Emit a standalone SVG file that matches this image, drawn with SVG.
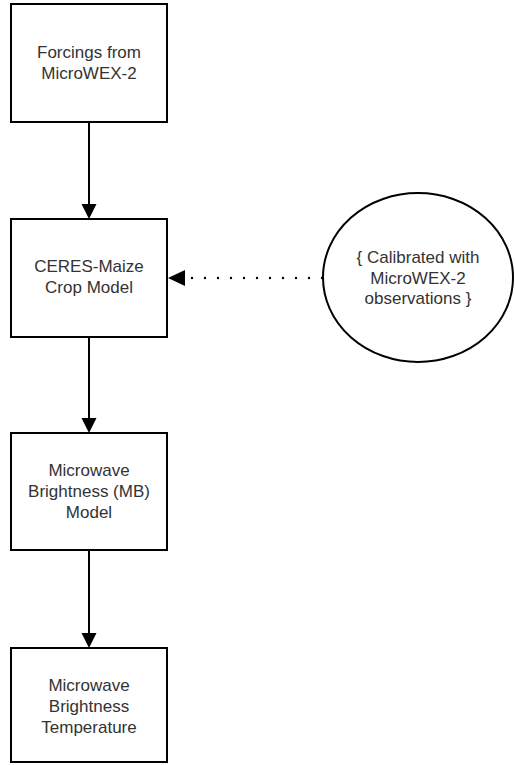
<svg xmlns="http://www.w3.org/2000/svg" width="515" height="765" viewBox="0 0 515 765">
<style>
.box{fill:#fff;stroke:#000;stroke-width:2}
.t{font-family:"Liberation Sans",Arial,sans-serif;font-size:17px;fill:#333;text-anchor:middle}
.c{stroke:#000;stroke-width:2;fill:none}
.d{stroke:#000;stroke-width:2.4;fill:none;stroke-dasharray:0 13;stroke-linecap:round}
.h{fill:#000}
</style>
<rect width="515" height="765" fill="#fff"/>
<g id="connectors">
<line class="c" x1="89" y1="122" x2="89" y2="204"/>
<path class="h" d="M81.5,204 L96.5,204 L89,219 Z"/>
<line class="c" x1="89" y1="337" x2="89" y2="418"/>
<path class="h" d="M81.5,418 L96.5,418 L89,433 Z"/>
<line class="c" x1="89" y1="550" x2="89" y2="633"/>
<path class="h" d="M81.5,633 L96.5,633 L89,648 Z"/>
<line class="d" x1="322" y1="278" x2="191.5" y2="278"/>
<path class="h" d="M185,270 L185,286 L168,278 Z"/>
</g>
<g id="n1">
<rect class="box" x="11" y="4" width="156" height="118"/>
<text class="t" x="89" y="58">Forcings from</text>
<text class="t" x="89" y="79">MicroWEX-2</text>
</g>
<g id="n2">
<rect class="box" x="11" y="219" width="156" height="118"/>
<text class="t" x="89" y="272">CERES-Maize</text>
<text class="t" x="89" y="293">Crop Model</text>
</g>
<g id="n3">
<rect class="box" x="11" y="433" width="156" height="117"/>
<text class="t" x="89" y="476">Microwave</text>
<text class="t" x="89" y="497">Brightness (MB)</text>
<text class="t" x="89" y="518">Model</text>
</g>
<g id="n4">
<rect class="box" x="11" y="648" width="156" height="114"/>
<text class="t" x="89" y="691">Microwave</text>
<text class="t" x="89" y="712">Brightness</text>
<text class="t" x="89" y="733">Temperature</text>
</g>
<g id="n5">
<ellipse class="box" cx="418" cy="277.5" rx="95" ry="84.5"/>
<text class="t" x="418" y="263">{ Calibrated with</text>
<text class="t" x="418" y="284">MicroWEX-2</text>
<text class="t" x="418" y="304">observations }</text>
</g>
</svg>
